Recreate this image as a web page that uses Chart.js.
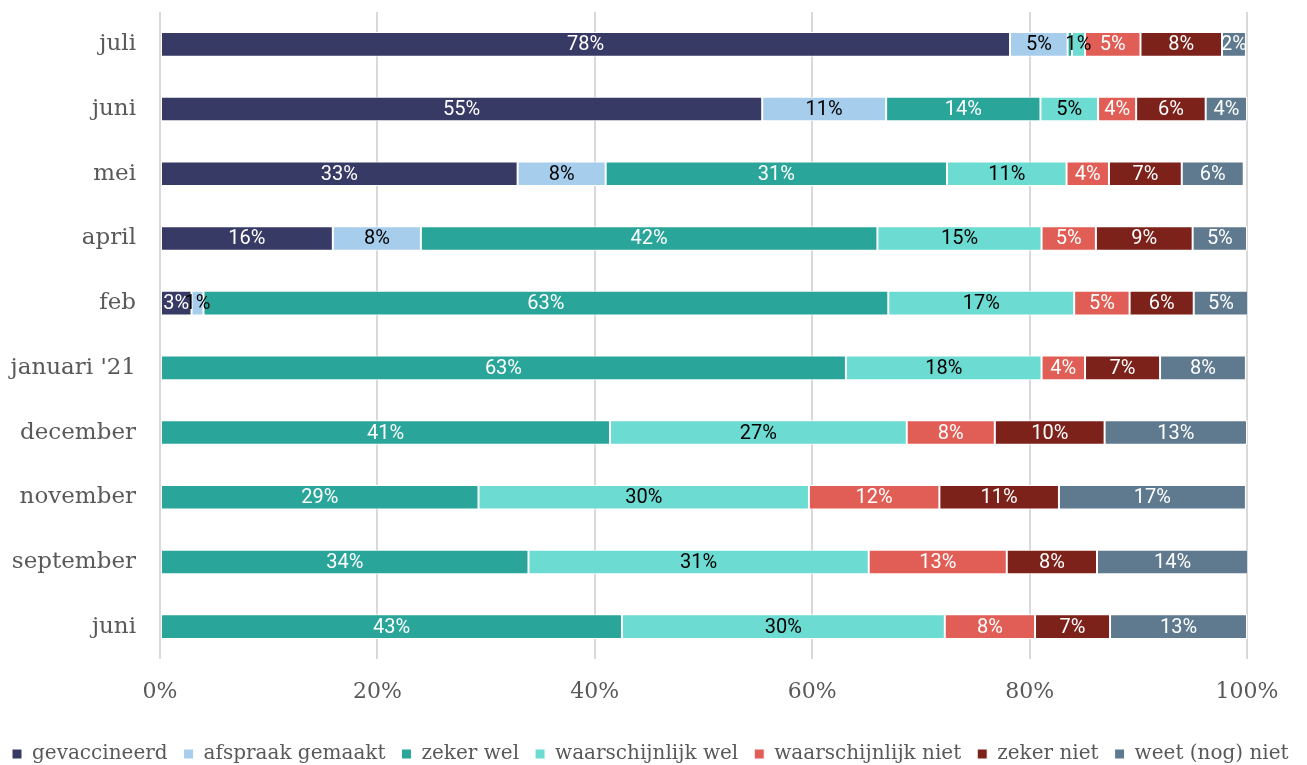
<!DOCTYPE html>
<html>
<head>
<meta charset="utf-8">
<script src="https://cdn.jsdelivr.net/npm/chart.js@4"></script>
<style>
  html, body { margin: 0; padding: 0; background: #fff; }
  #wrap { width: 1307px; height: 765px; }
</style>
</head>
<body>
<div id="wrap"><canvas id="vaccinChart"></canvas></div>
<script>
// categories, top to bottom
const months = ["juli", "juni", "mei", "april", "feb", "januari '21", "december", "november", "september", "juni"];

// shares per answer (percent), same order as months
const gevaccineerd = [78.2, 55.4, 32.9, 15.9, 2.9, 0, 0, 0, 0, 0];
const afspraakGemaakt = [5.3, 11.4, 8.1, 8.1, 1.1, 0, 0, 0, 0, 0];
const zekerWel = [0.4, 14.2, 31.4, 42.0, 63.0, 63.1, 41.4, 29.3, 33.9, 42.5];
const waarschijnlijkWel = [1.2, 5.3, 11.0, 15.1, 17.1, 18.0, 27.3, 30.4, 31.3, 29.7];
const waarschijnlijkNiet = [5.1, 3.5, 3.9, 5.0, 5.1, 4.0, 8.1, 12.0, 12.7, 8.3];
const zekerNiet = [7.5, 6.4, 6.7, 8.9, 5.9, 6.9, 10.1, 11.0, 8.3, 6.9];
const weetNogNiet = [2.2, 3.8, 5.7, 5.0, 5.0, 7.9, 13.1, 17.2, 13.9, 12.6];

const xTicks = [0, 20, 40, 60, 80, 100];

const serif = "'DejaVu Serif', serif";
const grey = "#595959";

// draw the percentage inside each segment
const segmentLabels = {
  id: "segmentLabels",
  afterDatasetsDraw(chart) {
    const ctx = chart.ctx;
    ctx.save();
    ctx.font = "20px Roboto";
    ctx.textAlign = "center";
    ctx.textBaseline = "middle";
    chart.data.datasets.forEach((ds, i) => {
      const meta = chart.getDatasetMeta(i);
      meta.data.forEach((bar, j) => {
        const v = Math.round(ds.data[j]);
        if (!v) return;
        ctx.fillStyle = ds.labelColor;
        ctx.fillText(v + "%", (bar.x + bar.base) / 2, bar.y + 1);
      });
    });
    ctx.restore();
  },
};

function series(label, data, color, labelColor) {
  return {
    label: label,
    data: data,
    backgroundColor: color,
    borderColor: "#ffffff",
    borderWidth: 1,
    borderSkipped: false,
    labelColor: labelColor,
    barPercentage: 0.76,
    categoryPercentage: 0.5,
  };
}

const ctx = document.getElementById("vaccinChart").getContext("2d");
new Chart(ctx, {
  type: "bar",
  data: {
    labels: months,
    datasets: [
      series("gevaccineerd", gevaccineerd, "#383a66", "#ffffff"),
      series("afspraak gemaakt", afspraakGemaakt, "#a6cdec", "#000000"),
      series("zeker wel", zekerWel, "#2aa59a", "#ffffff"),
      series("waarschijnlijk wel", waarschijnlijkWel, "#6cdbd2", "#000000"),
      series("waarschijnlijk niet", waarschijnlijkNiet, "#e05e55", "#ffffff"),
      series("zeker niet", zekerNiet, "#7d211b", "#ffffff"),
      series("weet (nog) niet", weetNogNiet, "#5f7a8f", "#ffffff"),
    ],
  },
  plugins: [segmentLabels],
  options: {
    indexAxis: "y",
    responsive: true,
    maintainAspectRatio: false,
    animation: false,
    layout: {
      padding: { left: -4, right: -30, top: 12, bottom: -9 },
    },
    plugins: {
      tooltip: { enabled: false },
      legend: {
        position: "bottom",
        align: "start",
        labels: {
          usePointStyle: true,
          pointStyle: "rect",
          boxWidth: 10,
          boxHeight: 10,
          padding: 16,
          color: grey,
          font: { family: serif, size: 20 },
        },
      },
    },
    scales: {
      x: {
        stacked: true,
        min: 0,
        max: 100,
        afterBuildTicks: (axis) => {
          axis.ticks = xTicks.map((v) => ({ value: v }));
        },
        afterFit: (scale) => {
          scale.paddingRight = 60;
          scale.paddingLeft = 0;
          scale.height = 69;
        },
        grid: { color: "#d9d9d9", lineWidth: 2, drawTicks: false },
        border: { display: false },
        ticks: {
          padding: 20,
          color: grey,
          font: { family: serif, size: 22 },
          callback: (v) => v + "%",
        },
      },
      y: {
        stacked: true,
        afterFit: (scale) => {
          scale.width = 164;
          scale.paddingTop = 0;
          scale.paddingBottom = 0;
        },
        grid: { display: false },
        border: { display: false },
        ticks: {
          padding: 16,
          color: grey,
          font: { family: serif, size: 23 },
        },
      },
    },
  },
});
</script>
</body>
</html>
